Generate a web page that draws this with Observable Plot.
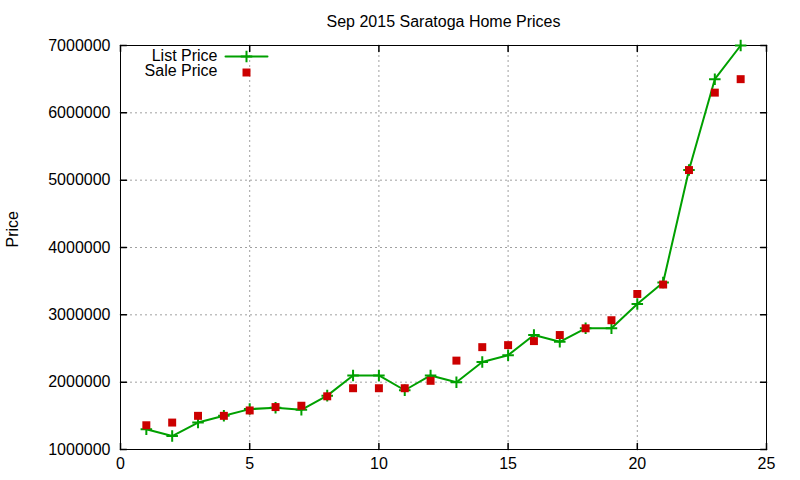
<!DOCTYPE html>
<html><head><meta charset="utf-8">
<script src="https://cdn.jsdelivr.net/npm/d3@7"></script>
<script src="https://cdn.jsdelivr.net/npm/@observablehq/plot@0.6"></script>
<style>body{margin:0;background:#fff;}</style>
</head><body><div id="chart"></div>
<script>
const title = "Sep 2015 Saratoga Home Prices";
const yLabel = "Price";
const seriesNames = ["List Price", "Sale Price"];
const homeIndex = [1,2,3,4,5,6,7,8,9,10,11,12,13,14,15,16,17,18,19,20,21,22,23,24];
const listPrice = [1300000,1200000,1400000,1500000,1600000,1620000,1590000,1800000,2100000,2100000,1880000,2100000,2000000,2300000,2400000,2700000,2600000,2800000,2800000,3160000,3480000,5150000,6500000,7000000];
const salePrice = [1360000,1400000,1500000,1500000,1580000,1630000,1650000,1790000,1910000,1910000,1910000,2020000,2320000,2520000,2550000,2610000,2700000,2800000,2920000,3310000,3450000,5150000,6300000,6500000];
const xTicks = [0,5,10,15,20,25];
const yTicks = [1000000,2000000,3000000,4000000,5000000,6000000,7000000];

const rows = homeIndex.map((x, i) => ({x, list: listPrice[i], sale: salePrice[i]}));
const green = "#00a000", red = "#cc0000";
const seg = {draw(ctx, l) { ctx.moveTo(0, 0); ctx.lineTo(0, -l); }};
const T = 6;

const chart = Plot.plot({
  width: 800, height: 480,
  marginLeft: 120, marginRight: 34, marginTop: 45, marginBottom: 31,
  x: {domain: [0, 25], label: null},
  y: {domain: [1000000, 7000000], label: null},
  style: {fontFamily: "'Liberation Sans', Arial, sans-serif", fontSize: "16px", color: "black", background: "white"},
  marks: [
    Plot.gridX(xTicks, {stroke: "#a0a0a0", strokeOpacity: 1, strokeDasharray: "2,3"}),
    Plot.gridY(yTicks, {stroke: "#a0a0a0", strokeOpacity: 1, strokeDasharray: "2,3"}),
    Plot.frame({stroke: "black", strokeWidth: 1}),
    Plot.vector(xTicks, {x: d => d, frameAnchor: "bottom", length: T, rotate: 0, anchor: "start", shape: seg, stroke: "black"}),
    Plot.vector(xTicks, {x: d => d, frameAnchor: "top", length: T, rotate: 180, anchor: "start", shape: seg, stroke: "black"}),
    Plot.vector(yTicks, {y: d => d, frameAnchor: "left", length: T, rotate: 90, anchor: "start", shape: seg, stroke: "black"}),
    Plot.vector(yTicks, {y: d => d, frameAnchor: "right", length: T, rotate: -90, anchor: "start", shape: seg, stroke: "black"}),
    Plot.axisX(xTicks, {tickSize: 0, tickPadding: 8, fontSize: 16, label: null}),
    Plot.axisY(yTicks, {tickSize: 0, tickPadding: 10, fontSize: 16, label: null, tickFormat: d => d3.format("d")(d)}),
    Plot.line(rows, {x: "x", y: "list", stroke: green, strokeWidth: 2}),
    Plot.dot(rows, {x: "x", y: "list", symbol: "plus", r: 3.8, stroke: green, strokeWidth: 2}),
    Plot.dot(rows, {x: "x", y: "sale", symbol: "square", r: 4.5, fill: red}),
    Plot.text([title], {x: null, y: null, text: d => d, frameAnchor: "top", lineAnchor: "middle", dy: -24, fontSize: 16}),
    Plot.text([yLabel], {x: null, y: null, text: d => d, frameAnchor: "left", lineAnchor: "middle", rotate: -90, dx: -108, fontSize: 16}),
    Plot.text([seriesNames[0]], {x: null, y: null, text: d => d, frameAnchor: "top-left", lineAnchor: "middle", textAnchor: "end", dx: 97, dy: 10, fontSize: 16}),
    Plot.text([seriesNames[1]], {x: null, y: null, text: d => d, frameAnchor: "top-left", lineAnchor: "middle", textAnchor: "end", dx: 97, dy: 25.5, fontSize: 16}),
    Plot.vector([seriesNames[0]], {x: null, y: null, frameAnchor: "top-left", dx: 105, dy: 11, length: 42, rotate: 90, anchor: "start", shape: seg, stroke: green, strokeWidth: 2}),
    Plot.dot([seriesNames[0]], {x: null, y: null, frameAnchor: "top-left", dx: 126, dy: 11, symbol: "plus", r: 3.8, stroke: green, strokeWidth: 2}),
    Plot.dot([seriesNames[1]], {x: null, y: null, frameAnchor: "top-left", dx: 126, dy: 27, symbol: "square", r: 4.5, fill: red})
  ]
});
document.getElementById("chart").appendChild(chart);
</script>
</body></html>
